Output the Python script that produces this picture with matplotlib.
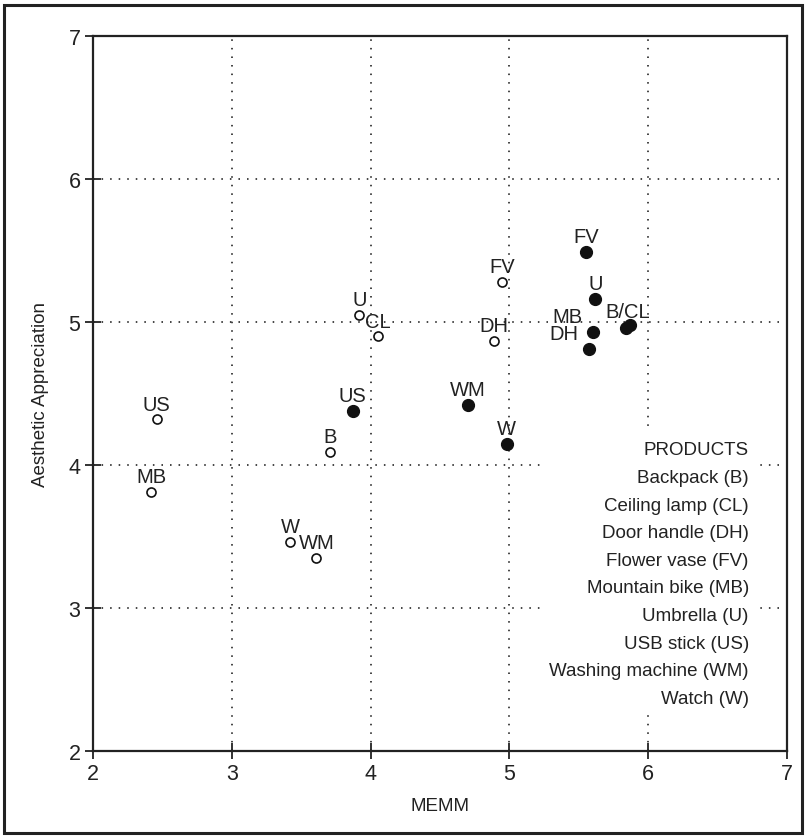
import matplotlib
matplotlib.use("Agg")
import matplotlib.pyplot as plt
from matplotlib.patches import Rectangle

plt.rcParams['font.family'] = ['Liberation Sans', 'DejaVu Sans']

# product codes and scores
open_codes = ['US', 'MB', 'W', 'WM', 'B', 'U', 'CL', 'FV', 'DH']
open_x = [2.46, 2.42, 3.42, 3.61, 3.71, 3.92, 4.05, 4.95, 4.89]
open_y = [4.32, 3.81, 3.46, 3.35, 4.09, 5.05, 4.90, 5.28, 4.87]

filled_codes = ['US', 'WM', 'W', 'FV', 'U', 'MB', 'DH', 'B', 'CL']
filled_x = [3.87, 4.70, 4.98, 5.55, 5.62, 5.60, 5.57, 5.84, 5.87]
filled_y = [4.38, 4.42, 4.15, 5.49, 5.16, 4.93, 4.81, 4.96, 4.98]

ticks = [2, 3, 4, 5, 6, 7]
legend_title = 'PRODUCTS'
legend_items = ['Backpack (B)', 'Ceiling lamp (CL)', 'Door handle (DH)',
                'Flower vase (FV)', 'Mountain bike (MB)', 'Umbrella (U)',
                'USB stick (US)', 'Washing machine (WM)', 'Watch (W)']

FS = 13.5
LFS = 14.5
INK = '#222222'

fig = plt.figure(figsize=(8.06, 8.37), dpi=100)
ax = fig.add_axes([93 / 806, 1 - 752 / 837, 694 / 806, 715 / 837])

# outer frame of the picture
fig.patches.append(Rectangle((0.005, 0.004), 0.99, 0.989, transform=fig.transFigure,
                             fill=False, edgecolor=INK, linewidth=2.2, zorder=10))

ax.set_xlim(2, 7)
ax.set_ylim(2, 7)
ax.set_xticks(ticks)
ax.set_yticks(ticks)
ax.tick_params(direction='inout', length=12, width=1.3, labelsize=15.5, pad=3, colors=INK)
for s in ax.spines.values():
    s.set_linewidth(1.6)
    s.set_color(INK)

for v in ticks[1:-1]:
    ax.axvline(v, color='#444444', lw=1.4, ls=(0, (0.8, 3.6)), zorder=0.5)
    ax.axhline(v, color='#444444', lw=1.4, ls=(0, (0.8, 3.6)), zorder=0.5)

ax.plot(open_x, open_y, 'o', ms=6.5, mfc='white', mec='#111111', mew=1.2, zorder=3)
ax.plot(filled_x, filled_y, 'o', ms=8.5, mfc='#111111', mec='#111111', zorder=3)

for c, x, y in zip(open_codes, open_x, open_y):
    ax.annotate(c, (x, y), xytext=(0, 7), textcoords='offset points',
                ha='center', va='baseline', fontsize=LFS, color=INK, zorder=4)

for c, x, y in zip(filled_codes, filled_x, filled_y):
    if c in ('MB', 'DH'):
        ax.annotate(c, (x, y), xytext=(-7, 7), textcoords='offset points',
                    ha='right', va='baseline', fontsize=LFS, color=INK, zorder=4)
    elif c == 'B':
        mx = (filled_x[7] + filled_x[8]) / 2
        my = (filled_y[7] + filled_y[8]) / 2
        ax.annotate('B/CL', (mx, my), xytext=(0, 7), textcoords='offset points',
                    ha='center', va='baseline', fontsize=LFS, color=INK, zorder=4)
    elif c == 'CL':
        continue
    else:
        ax.annotate(c, (x, y), xytext=(0, 7), textcoords='offset points',
                    ha='center', va='baseline', fontsize=LFS, color=INK, zorder=4)

# product key on a white patch that hides the grid
ax.add_patch(Rectangle((0.644, 0.056), 0.313, 0.394, transform=ax.transAxes,
                       facecolor='white', edgecolor='none', zorder=1))
for i, t in enumerate([legend_title] + legend_items):
    ax.text(0.945, 0.421 - i * 0.0386, t, transform=ax.transAxes, ha='right', va='center',
            fontsize=FS, color=INK, zorder=4)

ax.set_xlabel('MEMM', fontsize=FS, color=INK, labelpad=9)
ax.set_ylabel('Aesthetic Appreciation', fontsize=FS, color=INK, labelpad=14)

fig.savefig('out.png', dpi=100)
